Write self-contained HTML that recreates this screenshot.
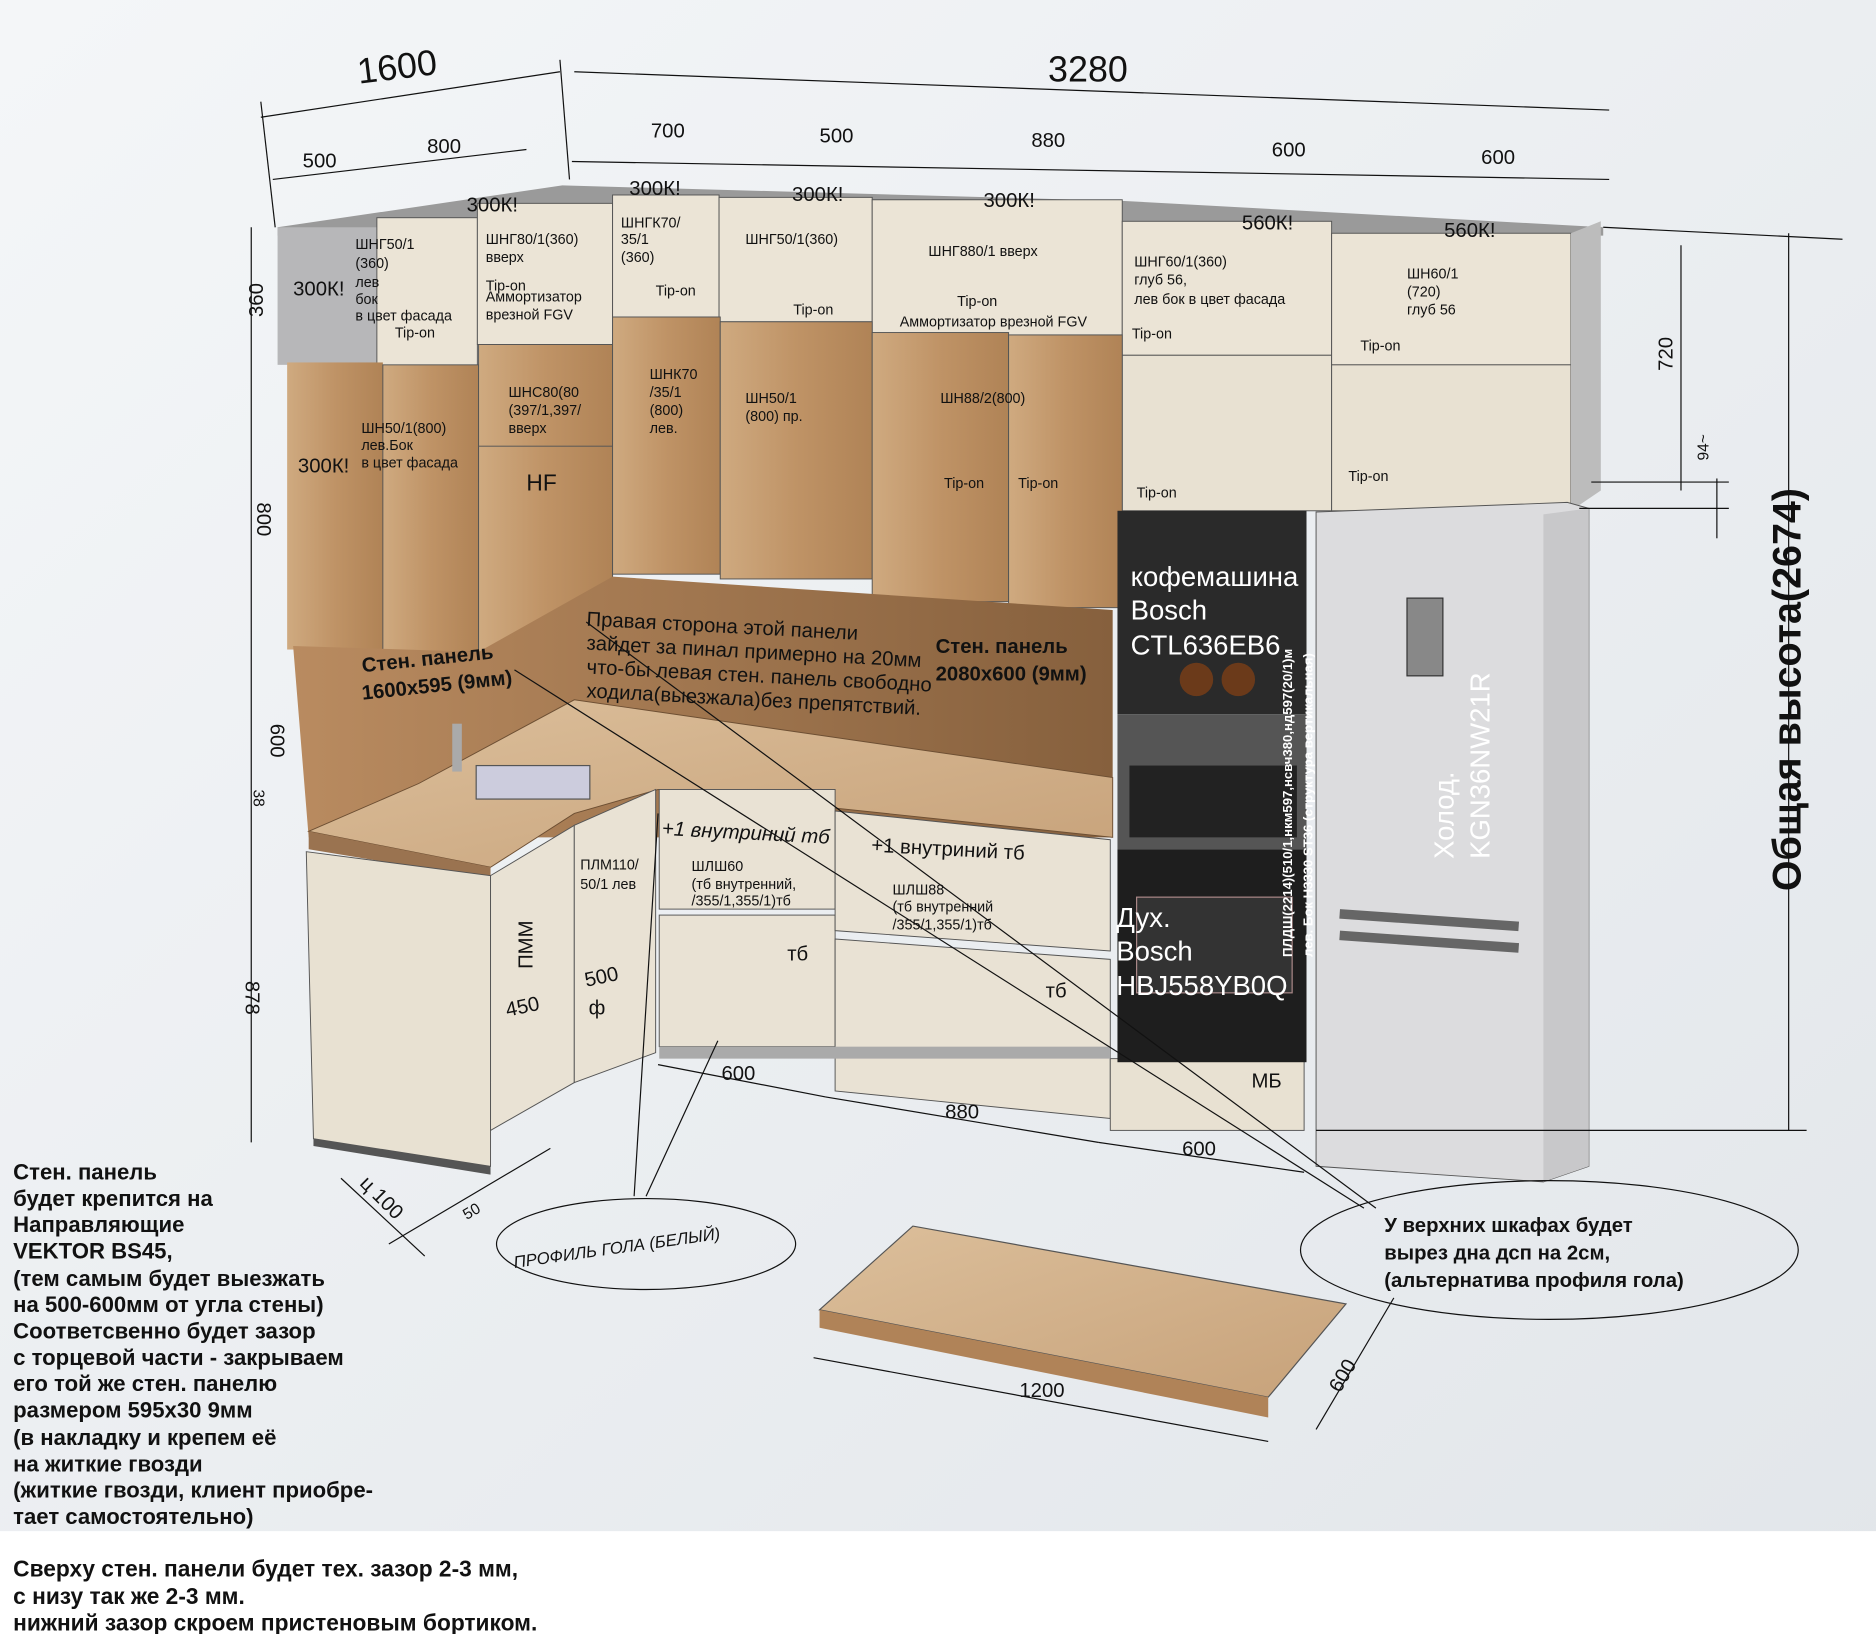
<!DOCTYPE html>
<html><head><meta charset="utf-8"><style>
html,body{margin:0;padding:0;background:#fff}
svg{display:block}
text{font-family:"Liberation Sans",sans-serif;fill:#111}
.s{font-size:12px}
.m{font-size:17px}
.b{font-weight:bold}
</style></head><body>
<svg width="1876" height="1634" viewBox="0 0 1568 1366" preserveAspectRatio="none" xmlns="http://www.w3.org/2000/svg">
<defs>
<linearGradient id="bg" x1="0" y1="0" x2="1" y2="1"><stop offset="0" stop-color="#f4f6f8"/><stop offset="1" stop-color="#e2e6ea"/></linearGradient>
<linearGradient id="wood" x1="0" y1="0" x2="1" y2="0"><stop offset="0" stop-color="#cfaa80"/><stop offset="0.5" stop-color="#bf9366"/><stop offset="1" stop-color="#b08356"/></linearGradient>
<linearGradient id="wall" x1="0" y1="0" x2="1" y2="0"><stop offset="0" stop-color="#b98b60"/><stop offset="1" stop-color="#86603d"/></linearGradient>
<linearGradient id="top" x1="0" y1="0" x2="1" y2="1"><stop offset="0" stop-color="#dcbf9b"/><stop offset="1" stop-color="#c7a27a"/></linearGradient>
</defs>
<rect width="1568" height="1366" fill="url(#bg)"/>
<rect y="1280" width="1568" height="86" fill="#fff"/>
<polygon points="232,190 470,155 940,168 1340,190 1340,197 232,197" fill="#9a9a9a"/>
<rect x="232" y="190" width="83" height="115" fill="#b7b7b9"/>
<rect x="315" y="182" width="84" height="125" fill="#ebe4d6" stroke="#555" stroke-width="0.8"/>
<rect x="399" y="170" width="113" height="118" fill="#ebe4d6" stroke="#555" stroke-width="0.8"/>
<rect x="512" y="163" width="89" height="102" fill="#ebe4d6" stroke="#555" stroke-width="0.8"/>
<rect x="601" y="165" width="128" height="104" fill="#ebe4d6" stroke="#555" stroke-width="0.8"/>
<rect x="729" y="167" width="209" height="113" fill="#ebe4d6" stroke="#555" stroke-width="0.8"/>
<rect x="938" y="185" width="175" height="112" fill="#ebe4d6" stroke="#555" stroke-width="0.8"/>
<rect x="938" y="297" width="175" height="130" fill="#e8e1d2" stroke="#555" stroke-width="0.8"/>
<rect x="1113" y="195" width="200" height="110" fill="#ebe4d6" stroke="#555" stroke-width="0.8"/>
<rect x="1113" y="305" width="200" height="122" fill="#e8e1d2" stroke="#555" stroke-width="0.8"/>
<polygon points="1313,195 1338,185 1338,410 1313,427" fill="#bcbcbc"/>
<rect x="240" y="303" width="80" height="240" fill="url(#wood)"/>
<rect x="320" y="305" width="80" height="240" fill="url(#wood)" stroke="#555" stroke-width="0.8"/>
<rect x="400" y="288" width="112" height="115" fill="url(#wood)" stroke="#555" stroke-width="0.8"/>
<rect x="400" y="373" width="112" height="220" fill="url(#wood)" stroke="#555" stroke-width="0.8"/>
<rect x="512" y="265" width="90" height="215" fill="url(#wood)" stroke="#555" stroke-width="0.8"/>
<rect x="602" y="269" width="127" height="215" fill="url(#wood)" stroke="#555" stroke-width="0.8"/>
<rect x="729" y="278" width="114" height="225" fill="url(#wood)" stroke="#555" stroke-width="0.8"/>
<rect x="843" y="280" width="95" height="228" fill="url(#wood)" stroke="#555" stroke-width="0.8"/>
<polygon points="245,540 400,545 512,482 930,510 930,700 258,700" fill="url(#wall)"/>
<polygon points="258,695 350,655 480,585 930,650 930,700 550,660 480,680 410,725" fill="url(#top)" stroke="#6d4f33" stroke-width="0.8"/>
<polygon points="258,695 410,725 410,735 258,710" fill="#9a7350"/>
<rect x="398" y="640" width="95" height="28" fill="#ccd" stroke="#555"/>
<rect x="378" y="605" width="8" height="40" fill="#aaa"/>
<polygon points="256,712 410,732 410,975 262,952" fill="#e8e1d2" stroke="#555" stroke-width="0.8"/>
<polygon points="410,732 480,690 480,905 410,945" fill="#e9e2d4" stroke="#555" stroke-width="0.8"/>
<polygon points="480,690 548,660 548,880 480,905" fill="#e9e2d4" stroke="#555" stroke-width="0.8"/>
<rect x="551" y="660" width="147" height="100" fill="#e9e2d4" stroke="#555" stroke-width="0.8"/>
<rect x="551" y="765" width="147" height="110" fill="#e9e2d4" stroke="#555" stroke-width="0.8"/>
<polygon points="698,678 928,702 928,795 698,778" fill="#e9e2d4" stroke="#555" stroke-width="0.8"/>
<polygon points="698,785 928,802 928,935 698,912" fill="#e9e2d4" stroke="#555" stroke-width="0.8"/>
<rect x="928" y="885" width="162" height="60" fill="#e8e1d2" stroke="#555" stroke-width="0.8"/>
<rect x="934" y="427" width="158" height="170" fill="#2a2a2a"/>
<rect x="934" y="597" width="158" height="113" fill="#555"/>
<rect x="944" y="640" width="140" height="60" fill="#222"/>
<rect x="934" y="710" width="158" height="178" fill="#1e1e1e"/>
<rect x="950" y="750" width="130" height="80" fill="#333" stroke="#a88" stroke-width="1"/>
<circle cx="1000" cy="568" r="14" fill="#6b3a1a"/><circle cx="1035" cy="568" r="14" fill="#6b3a1a"/>
<polygon points="1100,428 1310,420 1328,425 1328,975 1290,988 1100,975" fill="#dcdcde" stroke="#555" stroke-width="0.8"/>
<polygon points="1290,430 1328,425 1328,975 1290,988" fill="#c8c8ca"/>
<rect x="1176" y="500" width="30" height="65" fill="#888" stroke="#333"/>
<rect x="1120" y="760" width="150" height="8" fill="#666" transform="rotate(4 1120 760)"/>
<rect x="1120" y="778" width="150" height="8" fill="#666" transform="rotate(4 1120 778)"/>
<polygon points="262,952 410,975 410,982 262,958" fill="#555"/>
<rect x="551" y="875" width="377" height="10" fill="#aaa"/>
<polygon points="685,1095 763,1025 1125,1090 1060,1168" fill="url(#top)" stroke="#555"/>
<polygon points="685,1095 1060,1168 1060,1185 685,1110" fill="#b08358"/>
<g stroke="#111" stroke-width="1" fill="none">
<line x1="218" y1="98" x2="468" y2="60"/><line x1="480" y1="60" x2="1345" y2="92"/>
<line x1="228" y1="150" x2="440" y2="125"/><line x1="478" y1="135" x2="1345" y2="150"/>
<line x1="218" y1="85" x2="230" y2="190"/><line x1="468" y1="50" x2="476" y2="150"/>
<line x1="210" y1="190" x2="210" y2="955"/>
<line x1="1495" y1="195" x2="1495" y2="945"/><line x1="1405" y1="205" x2="1405" y2="410"/>
<line x1="1435" y1="400" x2="1435" y2="450"/>
<line x1="1340" y1="190" x2="1540" y2="200"/><line x1="1330" y1="403" x2="1445" y2="403"/>
<line x1="1320" y1="425" x2="1445" y2="425"/><line x1="1100" y1="945" x2="1510" y2="945"/>
<line x1="550" y1="890" x2="690" y2="917"/><line x1="690" y1="917" x2="918" y2="955"/><line x1="918" y1="955" x2="1090" y2="980"/>
<line x1="680" y1="1135" x2="1060" y2="1205"/><line x1="1100" y1="1195" x2="1165" y2="1085"/>
<line x1="285" y1="985" x2="355" y2="1050"/><line x1="325" y1="1040" x2="460" y2="960"/>
<line x1="490" y1="520" x2="1150" y2="1010"/><line x1="430" y1="560" x2="1140" y2="1010"/>
<line x1="530" y1="1000" x2="550" y2="680"/><line x1="540" y1="1000" x2="600" y2="870"/>
<ellipse cx="540" cy="1040" rx="125" ry="38"/><ellipse cx="1295" cy="1045" rx="208" ry="58"/>
</g>
<g class="m">
<text x="300" y="70" font-size="30" transform="rotate(-7 300 70)">1600</text>
<text x="876" y="68" font-size="30">3280</text>
<text x="253" y="140">500</text><text x="357" y="128">800</text>
<text x="544" y="115">700</text><text x="685" y="119">500</text><text x="862" y="123">880</text>
<text x="1063" y="131">600</text><text x="1238" y="137">600</text>
<text x="603" y="903">600</text><text x="790" y="935">880</text><text x="988" y="966">600</text>
<text x="852" y="1168">1200</text>
<text x="1120" y="1165" transform="rotate(-60 1120 1165)">600</text>
<text x="220" y="265" transform="rotate(-90 220 265)">360</text>
<text x="215" y="420" transform="rotate(90 215 420)">800</text>
<text x="226" y="605" transform="rotate(90 226 605)">600</text>
<text x="212" y="660" transform="rotate(90 212 660)" font-size="13">38</text>
<text x="205" y="820" transform="rotate(90 205 820)">878</text>
<text x="1398" y="310" transform="rotate(-90 1398 310)">720</text>
<text x="1428" y="385" transform="rotate(-90 1428 385)" font-size="13">94~</text>
<text x="300" y="990" transform="rotate(45 300 990)">ц 100</text>
<text x="390" y="1020" font-size="13" transform="rotate(-30 390 1020)">50</text>
</g>
<text x="1505" y="745" font-size="33" class="b" transform="rotate(-90 1505 745)">Общая высота(2674)</text>
<g class="m">
<text x="245" y="247">300К!</text><text x="390" y="177">300К!</text><text x="526" y="163">300К!</text>
<text x="662" y="168">300К!</text><text x="822" y="173">300К!</text><text x="1038" y="192">560К!</text>
<text x="1207" y="198">560К!</text><text x="249" y="395">300К!</text>
<text x="440" y="410" font-size="19">HF</text>
</g>
<g class="s">
<text x="297" y="208">ШНГ50/1</text><text x="297" y="224">(360)</text><text x="297" y="240">лев</text><text x="297" y="254">бок</text><text x="297" y="268">в цвет фасада</text><text x="330" y="282">Tip-on</text>
<text x="406" y="204">ШНГ80/1(360)</text><text x="406" y="219">вверх</text><text x="406" y="243">Tip-on</text><text x="406" y="252">Аммортизатор</text><text x="406" y="267">врезной FGV</text>
<text x="519" y="190">ШНГК70/</text><text x="519" y="204">35/1</text><text x="519" y="219">(360)</text><text x="548" y="247">Tip-on</text>
<text x="623" y="204">ШНГ50/1(360)</text><text x="663" y="263">Tip-on</text>
<text x="776" y="214">ШНГ880/1 вверх</text><text x="800" y="256">Tip-on</text><text x="752" y="273">Аммортизатор врезной FGV</text>
<text x="948" y="223">ШНГ60/1(360)</text><text x="948" y="238">глуб 56,</text><text x="948" y="254">лев бок в цвет фасада</text><text x="946" y="283">Tip-on</text>
<text x="1176" y="233">ШН60/1</text><text x="1176" y="248">(720)</text><text x="1176" y="263">глуб 56</text><text x="1137" y="293">Tip-on</text>
<text x="1127" y="402">Tip-on</text><text x="950" y="416">Tip-on</text>
<text x="302" y="362">ШН50/1(800)</text><text x="302" y="376">лев.Бок</text><text x="302" y="391">в цвет фасада</text>
<text x="425" y="332">ШНС80(80</text><text x="425" y="347">(397/1,397/</text><text x="425" y="362">вверх</text>
<text x="543" y="317">ШНК70</text><text x="543" y="332">/35/1</text><text x="543" y="347">(800)</text><text x="543" y="362">лев.</text>
<text x="623" y="337">ШН50/1</text><text x="623" y="352">(800) пр.</text>
<text x="786" y="337">ШН88/2(800)</text><text x="789" y="408">Tip-on</text><text x="851" y="408">Tip-on</text>
<text x="485" y="727">ПЛМ110/</text><text x="485" y="743">50/1 лев</text>
<text x="578" y="728">ШЛШ60</text><text x="578" y="743">(тб внутренний,</text><text x="578" y="757">/355/1,355/1)тб</text>
<text x="746" y="748">ШЛШ88</text><text x="746" y="762">(тб внутренний</text><text x="746" y="777">/355/1,355/1)тб</text>
</g>
<g class="m">
<text x="658" y="803">тб</text><text x="874" y="834">тб</text><text x="1046" y="909">МБ</text>
<text x="553" y="698" font-style="italic" transform="rotate(3 553 698)">+1 внутриний тб</text>
<text x="728" y="712" transform="rotate(3 728 712)">+1 внутриний тб</text>
<text x="445" y="810" transform="rotate(-90 445 810)">ПММ</text><text x="424" y="850" transform="rotate(-12 424 850)">450</text>
<text x="490" y="825" transform="rotate(-12 490 825)">500</text><text x="492" y="848">ф</text>
<text x="490" y="523" fill="#222" transform="rotate(3 490 523)">Правая сторона этой панели</text>
<text x="490" y="543" transform="rotate(3 490 543)">зайдет за пинал примерно на 20мм</text>
<text x="490" y="563" transform="rotate(3 490 563)">что-бы левая стен. панель свободно</text>
<text x="490" y="583" transform="rotate(3 490 583)">ходила(выезжала)без препятствий.</text>
<text x="303" y="562" class="b" transform="rotate(-6 303 562)">Стен. панель</text>
<text x="303" y="585" class="b" transform="rotate(-6 303 585)">1600х595 (9мм)</text>
<text x="782" y="546" class="b">Стен. панель</text><text x="782" y="569" class="b">2080х600 (9мм)</text>
<text x="430" y="1060" font-style="italic" font-size="14" transform="rotate(-8 430 1060)">ПРОФИЛЬ ГОЛА (БЕЛЫЙ)</text>
</g>
<g font-size="23">
<text x="945" y="490" style="fill:#fff">кофемашина</text><text x="945" y="518" style="fill:#fff">Bosch</text><text x="945" y="547" style="fill:#fff">CTL636EB6</text>
<text x="933" y="775" style="fill:#fff">Дух.</text><text x="933" y="803" style="fill:#fff">Bosch</text><text x="933" y="832" style="fill:#fff">HBJ558YB0Q</text>
<text x="1215" y="718" style="fill:#fff" transform="rotate(-90 1215 718)">Холод.</text>
<text x="1245" y="718" style="fill:#fff" transform="rotate(-90 1245 718)">KGN36NW21R</text>
</g>
<text x="1080" y="800" font-size="11" class="b" style="fill:#fff" transform="rotate(-90 1080 800)">ПЛДШ(2214)(510/1,нкм597,нсвч380,нд597(20/1)м</text>
<text x="1097" y="800" font-size="11" class="b" style="fill:#fff" transform="rotate(-90 1097 800)">лев. Бок Н3330 ST36 (структура вертикальная)</text>
<g class="m b">
<text x="1157" y="1030">У верхних шкафах будет</text>
<text x="1157" y="1053">вырез дна дсп на 2см,</text>
<text x="1157" y="1076">(альтернатива профиля гола)</text>
</g>
<g class="b" font-size="18.5">
<text x="11" y="986">Стен. панель</text><text x="11" y="1008">будет крепится на</text><text x="11" y="1030">Направляющие</text>
<text x="11" y="1052">VEKTOR BS45,</text><text x="11" y="1075">(тем самым будет выезжать</text><text x="11" y="1097">на 500-600мм от угла стены)</text>
<text x="11" y="1119">Соответсвенно будет зазор</text><text x="11" y="1141">с торцевой части - закрываем</text>
<text x="11" y="1163">его той же стен. панелю</text><text x="11" y="1185">размером 595х30 9мм</text>
<text x="11" y="1208">(в накладку и крепем её</text><text x="11" y="1230">на житкие гвозди</text>
<text x="11" y="1252">(житкие гвозди, клиент приобре-</text><text x="11" y="1274">тает самостоятельно)</text>
<text x="11" y="1318" font-size="19">Сверху стен. панели будет тех. зазор 2-3 мм,</text>
<text x="11" y="1341" font-size="19">с низу так же 2-3 мм.</text>
<text x="11" y="1363" font-size="19">нижний зазор скроем пристеновым бортиком.</text>
</g>
</svg>
</body></html>
